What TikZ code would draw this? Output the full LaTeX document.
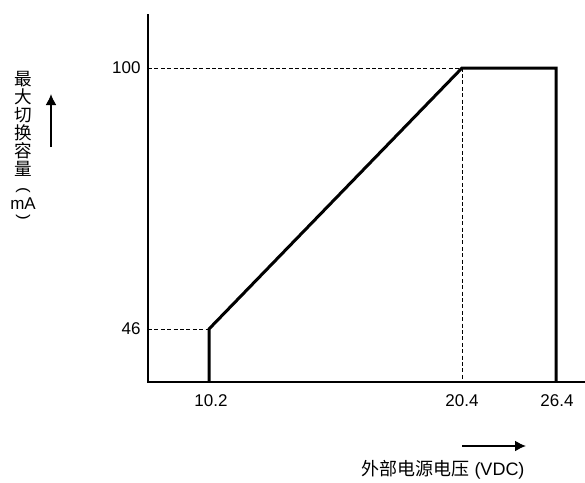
\documentclass[tikz,border=0pt]{standalone}
\usepackage{fontspec}
\setmainfont{Liberation Sans}
\newfontfamily\cjk{Noto Sans CJK SC}
\usetikzlibrary{arrows.meta}

\begin{document}
\begin{tikzpicture}[> = {Latex[length = 5.5pt, width = 5.5pt]}, x = 0.5pt, y = -0.5pt,
	tick/.style = {font = \fontsize{8.5}{10}\selectfont, inner sep = 0pt},
	guide/.style = {line width = 0.5pt, dash pattern = on 2pt off 1.2pt},
	vparen/.style = {tick, rotate = -90, xscale = 1, yscale = 0.9}]

	\useasboundingbox (0, 0) rectangle (585, 483);

	% Axes

	\coordinate (top) at (148, 14);
	\coordinate (origin) at (148, 382);
	\coordinate (right) at (585, 382);
	\draw [line width = 0.9pt] (top) -- (origin) -- (right);

	% Limit points

	\coordinate (lowfoot) at (209, 382);
	\coordinate (low) at (209, 329);
	\coordinate (knee) at (462, 68);
	\coordinate (kneefoot) at (462, 382);
	\coordinate (high) at (556, 68);
	\coordinate (highfoot) at (556, 382);

	% Guide lines

	\draw [guide] (148, 68) -- (knee) -- (kneefoot);
	\draw [guide] (148, 329) -- (low);

	% Switching capacity curve

	\draw [line width = 1.5pt] (lowfoot) -- (low) -- (knee) -- (high) -- (highfoot);

	% Tick labels

	\node [tick, anchor = east] (y100) at (141, 68) {100};
	\node [tick, anchor = east] (y46) at (141, 329) {46};
	\node [tick] (x102) at (211, 401) {10.2};
	\node [tick] (x204) at (462, 401) {20.4};
	\node [tick] (x264) at (557, 401) {26.4};

	% Axis names + arrows

	\node [align = center, font = \cjk\fontsize{8.8}{9}\selectfont, inner sep = 0pt] (yname) at (23, 124)
		{最\\大\\切\\换\\容\\量};
	\node [vparen] (yopen) at (23, 190) {(};
	\node [tick] (yunit) at (23, 204) {mA};
	\node [vparen] (yclose) at (23, 217) {)};
	\node [font = \fontsize{9}{10}\selectfont, inner sep = 0pt] (xname) at (443, 470)
		{{\cjk 外部电源电压} (VDC)};

	\coordinate (ytail) at (51, 147);
	\coordinate (ytip) at (51, 94);
	\coordinate (xtail) at (462, 446);
	\coordinate (xtip) at (526, 446);
	\begin{scope}[line width = 0.9pt, ->]
		\draw (ytail) -- (ytip);
		\draw (xtail) -- (xtip);
	\end{scope}

\end{tikzpicture}
\end{document}
